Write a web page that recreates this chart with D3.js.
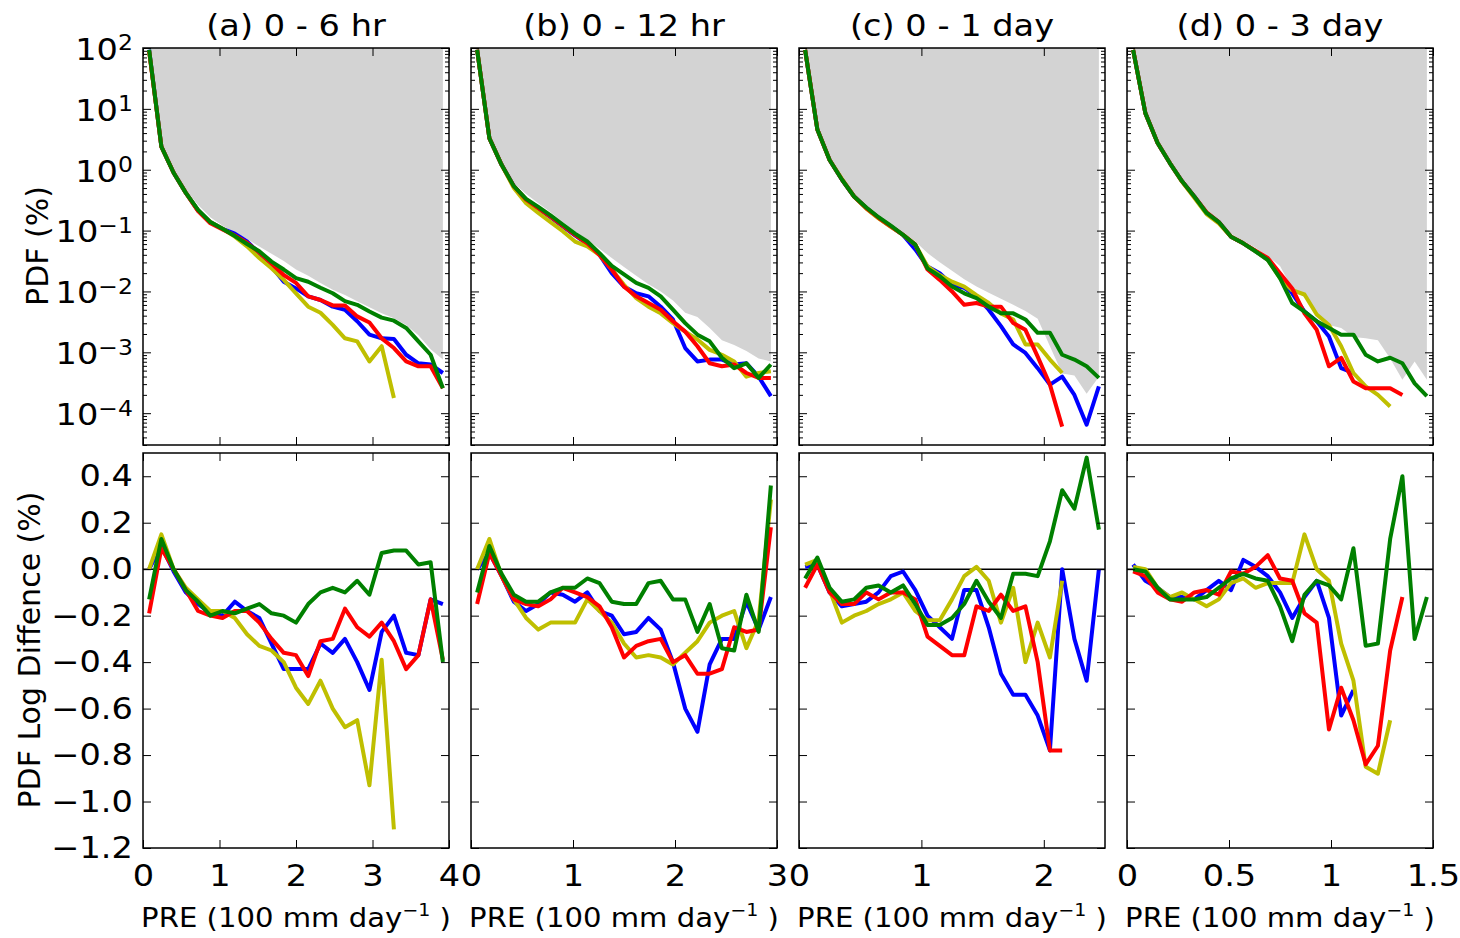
<!DOCTYPE html>
<html>
<head>
<meta charset="utf-8">
<script src="https://cdn.jsdelivr.net/npm/d3@7"></script>
<style>
  body { margin: 0; background: #fff; }
  text { font-family: "DejaVu Sans", sans-serif; fill: #000; }
</style>
</head>
<body>
<svg id="fig" width="1460" height="938"></svg>
<script>
// panels and axes
var panelTitles = ["(a) 0 - 6 hr", "(b) 0 - 12 hr", "(c) 0 - 1 day", "(d) 0 - 3 day"];
var xMax = [4, 3, 2.5, 1.5];
var xTickValues = [[0, 1, 2, 3, 4], [0, 1, 2, 3], [0, 1, 2], [0, 0.5, 1, 1.5]];
var nBins = 25;
var pdfDomain = [3e-5, 100];
var pdfTickExp = [2, 1, 0, -1, -2, -3, -4];
var diffDomain = [-1.2, 0.5];
var diffTicks = [0.4, 0.2, 0, -0.2, -0.4, -0.6, -0.8, -1.0, -1.2];

// log10 of PDF (%), one row per panel, 25 bins
var logPdfObs = [
  [1.99, 0.40, -0.03, -0.33, -0.58, -0.78, -0.92, -1.03, -1.14, -1.26, -1.38, -1.50, -1.64, -1.74, -1.86, -1.97, -2.06, -2.16, -2.26, -2.36, -2.44, -2.55, -2.72, -2.95, -3.12],
  [1.99, 0.55, 0.12, -0.22, -0.40, -0.55, -0.70, -0.86, -1.01, -1.15, -1.30, -1.45, -1.60, -1.74, -1.88, -2.00, -2.15, -2.35, -2.42, -2.60, -2.80, -2.88, -2.98, -3.10, -3.15],
  [1.99, 0.70, 0.20, -0.12, -0.40, -0.60, -0.77, -0.91, -1.03, -1.18, -1.37, -1.52, -1.66, -1.80, -1.92, -2.02, -2.12, -2.22, -2.32, -2.45, -2.90, -3.35, -3.38, -3.68, -3.40],
  [1.99, 0.95, 0.46, 0.12, -0.17, -0.42, -0.67, -0.85, -1.05, -1.17, -1.28, -1.42, -1.58, -1.95, -2.10, -2.35, -2.55, -2.60, -2.75, -2.77, -2.80, -3.10, -3.45, -3.15, -3.45]
];
var logPdfBlue = [
  [1.97, 0.38, -0.05, -0.38, -0.67, -0.86, -0.97, -1.05, -1.18, -1.37, -1.59, -1.84, -1.95, -2.08, -2.14, -2.25, -2.30, -2.49, -2.71, -2.77, -2.78, -3.04, -3.18, -3.20, -3.34],
  [1.97, 0.52, 0.08, -0.27, -0.50, -0.64, -0.78, -0.93, -1.08, -1.22, -1.40, -1.70, -1.92, -2.03, -2.08, -2.25, -2.46, -2.93, -3.15, -3.12, -3.12, -3.20, -3.18, -3.40, -3.72],
  [1.97, 0.66, 0.16, -0.16, -0.44, -0.63, -0.79, -0.93, -1.07, -1.31, -1.59, -1.70, -1.89, -1.94, -2.08, -2.30, -2.57, -2.87, -3.01, -3.26, -3.53, -3.40, -3.70, -4.19, -3.56],
  [1.97, 0.93, 0.44, 0.11, -0.19, -0.44, -0.71, -0.86, -1.10, -1.21, -1.34, -1.48, -1.75, -2.03, -2.33, -2.49, -2.74, -3.26, -3.34, null, null, null, null, null, null]
];
var logPdfRed = [
  [1.95, 0.38, -0.05, -0.38, -0.68, -0.88, -0.98, -1.08, -1.20, -1.36, -1.54, -1.73, -1.86, -2.08, -2.14, -2.23, -2.23, -2.41, -2.51, -2.77, -2.93, -3.15, -3.23, -3.23, -3.59],
  [1.97, 0.52, 0.08, -0.27, -0.49, -0.63, -0.77, -0.92, -1.07, -1.21, -1.40, -1.64, -1.92, -2.08, -2.19, -2.30, -2.49, -2.66, -2.90, -3.18, -3.23, -3.20, -3.34, -3.42, -3.42],
  [1.97, 0.66, 0.16, -0.16, -0.44, -0.63, -0.79, -0.93, -1.07, -1.23, -1.64, -1.81, -2.00, -2.22, -2.19, -2.25, -2.25, -2.52, -2.63, -3.07, -3.53, -4.22, null, null, null],
  [1.97, 0.93, 0.44, 0.11, -0.19, -0.44, -0.70, -0.86, -1.10, -1.21, -1.33, -1.45, -1.70, -1.95, -2.36, -2.63, -3.23, -3.09, -3.48, -3.59, -3.59, -3.59, -3.70, null, null]
];
var logPdfYellow = [
  [1.95, 0.38, -0.05, -0.38, -0.67, -0.86, -0.97, -1.10, -1.26, -1.45, -1.62, -1.81, -2.03, -2.25, -2.35, -2.55, -2.77, -2.82, -3.15, -2.90, -3.75, null, null, null, null],
  [1.97, 0.52, 0.08, -0.30, -0.55, -0.71, -0.86, -1.01, -1.18, -1.26, -1.40, -1.64, -1.89, -2.11, -2.25, -2.36, -2.52, -2.66, -2.79, -2.96, -3.04, -3.15, -3.40, -3.34, -3.31],
  [1.97, 0.66, 0.16, -0.15, -0.44, -0.64, -0.80, -0.94, -1.07, -1.23, -1.59, -1.73, -1.84, -1.92, -2.06, -2.19, -2.36, -2.46, -2.87, -2.87, -3.12, -3.34, null, null, null],
  [1.97, 0.93, 0.44, 0.11, -0.20, -0.46, -0.73, -0.88, -1.10, -1.21, -1.34, -1.48, -1.78, -1.98, -2.05, -2.38, -2.55, -2.90, -3.34, -3.56, -3.70, -3.89, null, null, null]
];
var logPdfGreen = [
  [1.97, 0.38, -0.05, -0.38, -0.66, -0.86, -0.97, -1.09, -1.22, -1.34, -1.51, -1.64, -1.78, -1.84, -1.94, -2.03, -2.16, -2.22, -2.33, -2.43, -2.48, -2.60, -2.82, -3.04, -3.59],
  [1.97, 0.52, 0.08, -0.27, -0.48, -0.61, -0.75, -0.90, -1.05, -1.18, -1.37, -1.58, -1.72, -1.86, -1.94, -2.08, -2.30, -2.52, -2.71, -2.82, -3.09, -3.26, -3.18, -3.42, -3.20],
  [1.97, 0.66, 0.16, -0.16, -0.44, -0.62, -0.78, -0.92, -1.07, -1.23, -1.62, -1.75, -1.92, -2.03, -2.11, -2.25, -2.36, -2.36, -2.46, -2.68, -2.68, -3.04, -3.12, -3.23, -3.42],
  [1.97, 0.93, 0.44, 0.11, -0.19, -0.44, -0.71, -0.86, -1.10, -1.21, -1.34, -1.48, -1.78, -2.19, -2.33, -2.49, -2.60, -2.71, -2.71, -3.04, -3.15, -3.09, -3.18, -3.51, -3.72]
];

// PDF log difference (%)
var diffBlue = [
  [0.00, 0.10, -0.01, -0.10, -0.15, -0.19, -0.20, -0.14, -0.18, -0.21, -0.32, -0.43, -0.43, -0.43, -0.32, -0.36, -0.30, -0.40, -0.52, -0.27, -0.20, -0.36, -0.37, -0.13, -0.15],
  [0.00, 0.07, -0.03, -0.14, -0.18, -0.15, -0.10, -0.11, -0.14, -0.10, -0.18, -0.20, -0.28, -0.27, -0.21, -0.26, -0.40, -0.60, -0.70, -0.41, -0.30, -0.30, -0.14, -0.26, -0.12],
  [0.01, 0.02, -0.10, -0.16, -0.15, -0.14, -0.10, -0.03, -0.01, -0.09, -0.20, -0.25, -0.30, -0.09, -0.09, -0.25, -0.45, -0.54, -0.54, -0.63, -0.78, 0.00, -0.30, -0.48, 0.00],
  [0.02, -0.05, -0.08, -0.12, -0.12, -0.13, -0.09, -0.05, -0.09, 0.04, 0.01, -0.03, -0.10, -0.21, -0.12, -0.05, -0.21, -0.63, -0.52, null, null, null, null, null, null]
];
var diffRed = [
  [-0.19, 0.09, 0.00, -0.09, -0.18, -0.20, -0.21, -0.18, -0.18, -0.23, -0.30, -0.36, -0.37, -0.46, -0.31, -0.30, -0.17, -0.25, -0.29, -0.23, -0.31, -0.43, -0.37, -0.13, -0.39],
  [-0.15, 0.07, -0.03, -0.13, -0.15, -0.16, -0.13, -0.08, -0.10, -0.12, -0.16, -0.25, -0.38, -0.33, -0.31, -0.30, -0.40, -0.37, -0.45, -0.45, -0.43, -0.25, -0.27, -0.26, 0.18],
  [-0.08, 0.02, -0.10, -0.15, -0.15, -0.10, -0.13, -0.10, -0.10, -0.13, -0.29, -0.33, -0.37, -0.37, -0.16, -0.18, -0.11, -0.18, -0.16, -0.40, -0.78, -0.78, null, null, null],
  [-0.01, -0.03, -0.10, -0.13, -0.14, -0.10, -0.09, -0.11, -0.01, -0.02, 0.01, 0.06, -0.04, -0.05, -0.19, -0.23, -0.69, -0.51, -0.65, -0.84, -0.76, -0.35, -0.12, null, null]
];
var diffYellow = [
  [0.00, 0.15, 0.00, -0.08, -0.13, -0.18, -0.18, -0.21, -0.28, -0.33, -0.35, -0.40, -0.51, -0.58, -0.48, -0.60, -0.68, -0.65, -0.93, -0.39, -1.12, null, null, null, null],
  [0.00, 0.13, -0.03, -0.13, -0.21, -0.26, -0.23, -0.23, -0.23, -0.13, -0.18, -0.23, -0.32, -0.38, -0.37, -0.38, -0.41, -0.36, -0.31, -0.23, -0.20, -0.18, -0.34, -0.22, 0.30],
  [0.02, 0.04, -0.09, -0.23, -0.20, -0.18, -0.15, -0.13, -0.10, -0.18, -0.22, -0.22, -0.13, -0.03, 0.01, -0.05, -0.23, -0.08, -0.40, -0.23, -0.38, -0.05, null, null, null],
  [0.01, 0.00, -0.08, -0.12, -0.10, -0.13, -0.16, -0.13, -0.06, -0.04, -0.08, -0.06, -0.06, -0.06, 0.15, 0.00, -0.05, -0.32, -0.48, -0.85, -0.88, -0.65, null, null, null]
];
var diffGreen = [
  [-0.13, 0.13, 0.00, -0.09, -0.14, -0.20, -0.18, -0.19, -0.17, -0.15, -0.19, -0.20, -0.23, -0.15, -0.10, -0.08, -0.10, -0.05, -0.11, 0.07, 0.08, 0.08, 0.02, 0.03, -0.40],
  [-0.10, 0.10, -0.02, -0.11, -0.14, -0.14, -0.10, -0.08, -0.08, -0.04, -0.06, -0.14, -0.15, -0.15, -0.06, -0.05, -0.13, -0.13, -0.27, -0.15, -0.34, -0.35, -0.11, -0.27, 0.36],
  [-0.04, 0.05, -0.08, -0.14, -0.13, -0.08, -0.07, -0.10, -0.07, -0.15, -0.24, -0.24, -0.21, -0.15, -0.05, -0.14, -0.21, -0.02, -0.02, -0.03, 0.12, 0.34, 0.26, 0.48, 0.17],
  [0.00, -0.01, -0.08, -0.13, -0.13, -0.13, -0.12, -0.08, -0.04, -0.02, -0.04, -0.05, -0.16, -0.31, -0.11, -0.05, -0.07, -0.13, 0.09, -0.33, -0.32, 0.13, 0.40, -0.30, -0.12]
];

var series = [
  {color: "#0000ff", pdf: logPdfBlue, diff: diffBlue},
  {color: "#bfbf00", pdf: logPdfYellow, diff: diffYellow},
  {color: "#ff0000", pdf: logPdfRed, diff: diffRed},
  {color: "#008000", pdf: logPdfGreen, diff: diffGreen}
];

var svg = d3.select("#fig"),
    LEFT = 143,
    PW = 306,
    STEP = 328,
    TOP1 = 48, BOT1 = 445,
    TOP2 = 453, BOT2 = 848,
    TICK = 8, MINOR = 4,
    FONT = 30,
    SX = 1.12;   // the original figure text is a little wider than tall

var yPdf = d3.scaleLog().domain(pdfDomain).range([BOT1, TOP1]);
var yDiff = d3.scaleLinear().domain(diffDomain).range([BOT2, TOP2]);

var minorPdf = [];
d3.range(-5, 2).forEach(function(e) {
  for (var k = 2; k <= 9; k++) {
    var v = k * Math.pow(10, e);
    if (v >= pdfDomain[0] && v <= pdfDomain[1]) minorPdf.push(v);
  }
});

function supText(sel, exp) {
  sel.text(null);
  sel.append("tspan").text("10");
  sel.append("tspan").attr("dy", "-0.45em").attr("font-size", "0.7em")
    .text(exp < 0 ? "\u2212" + (-exp) : String(exp));
}

function styleAxis(g) {
  g.select(".domain").remove();
  g.selectAll(".tick line").attr("stroke", "#000").attr("stroke-width", 1);
  g.selectAll(".tick text").attr("transform", "scale(" + SX + ",1)");
  g.attr("font-family", null).attr("font-size", FONT);
}

panelTitles.forEach(function(title, p) {
  var x0 = LEFT + p * STEP;
  var x = d3.scaleLinear().domain([0, xMax[p]]).range([x0, x0 + PW]);
  var centers = d3.range(nBins).map(function(i) { return (i + 0.5) * xMax[p] / nBins; });

  var clipTop = "clipTop" + p, clipBot = "clipBot" + p;
  svg.append("clipPath").attr("id", clipTop).append("rect")
    .attr("x", x0).attr("y", TOP1).attr("width", PW).attr("height", BOT1 - TOP1);
  svg.append("clipPath").attr("id", clipBot).append("rect")
    .attr("x", x0).attr("y", TOP2).attr("width", PW).attr("height", BOT2 - TOP2);

  // ---- top row: PDF on log axis
  var top = svg.append("g").attr("clip-path", "url(#" + clipTop + ")");
  var area = d3.area()
    .x(function(d, i) { return x(centers[i]); })
    .y0(yPdf(pdfDomain[1]))
    .y1(function(d) { return yPdf(Math.pow(10, d)); });
  top.append("path").attr("d", area(logPdfObs[p])).attr("fill", "#d3d3d3");

  var pdfLine = d3.line()
    .defined(function(d) { return d != null; })
    .x(function(d, i) { return x(centers[i]); })
    .y(function(d) { return yPdf(Math.pow(10, d)); });
  series.forEach(function(s) {
    top.append("path").attr("d", pdfLine(s.pdf[p]))
      .attr("fill", "none").attr("stroke", s.color).attr("stroke-width", 4)
      .attr("stroke-linejoin", "round");
  });

  // ---- bottom row: log difference
  var bot = svg.append("g").attr("clip-path", "url(#" + clipBot + ")");
  bot.append("line")
    .attr("x1", x0).attr("x2", x0 + PW)
    .attr("y1", yDiff(0)).attr("y2", yDiff(0))
    .attr("stroke", "#000").attr("stroke-width", 1.5);
  var diffLine = d3.line()
    .defined(function(d) { return d != null; })
    .x(function(d, i) { return x(centers[i]); })
    .y(function(d) { return yDiff(d); });
  series.forEach(function(s) {
    bot.append("path").attr("d", diffLine(s.diff[p]))
      .attr("fill", "none").attr("stroke", s.color).attr("stroke-width", 4)
      .attr("stroke-linejoin", "round");
  });

  // ---- axes (ticks inside on all four sides)
  [[TOP1, BOT1], [TOP2, BOT2]].forEach(function(r, row) {
    svg.append("g").attr("transform", "translate(0," + r[1] + ")")
      .call(d3.axisBottom(x).tickValues(xTickValues[p]).tickSize(-TICK).tickPadding(17)
        .tickFormat(row === 1 ? function(d) { return String(d); } : ""))
      .call(styleAxis);
    svg.append("g").attr("transform", "translate(0," + r[0] + ")")
      .call(d3.axisTop(x).tickValues(xTickValues[p]).tickSize(-TICK).tickFormat(""))
      .call(styleAxis);
  });

  var yl = svg.append("g").attr("transform", "translate(" + x0 + ",0)")
    .call(d3.axisLeft(yPdf).tickValues(pdfTickExp.map(function(e) { return Math.pow(10, e); }))
      .tickSize(-TICK).tickPadding(9).tickFormat(p === 0 ? function(d) { return d; } : ""))
    .call(styleAxis);
  if (p === 0) {
    yl.selectAll(".tick text").each(function(d) {
      d3.select(this).attr("dy", "0.38em").call(supText, Math.round(Math.log10(d)));
    });
  }
  svg.append("g").attr("transform", "translate(" + (x0 + PW) + ",0)")
    .call(d3.axisRight(yPdf).tickValues(pdfTickExp.map(function(e) { return Math.pow(10, e); }))
      .tickSize(-TICK).tickFormat(""))
    .call(styleAxis);
  [x0, x0 + PW].forEach(function(xx, side) {
    svg.append("g").attr("transform", "translate(" + xx + ",0)")
      .call((side === 0 ? d3.axisLeft(yPdf) : d3.axisRight(yPdf))
        .tickValues(minorPdf).tickSize(-MINOR).tickFormat(""))
      .call(styleAxis);
  });

  svg.append("g").attr("transform", "translate(" + x0 + ",0)")
    .call(d3.axisLeft(yDiff).tickValues(diffTicks).tickSize(-TICK).tickPadding(9)
      .tickFormat(p === 0 ? d3.format(".1f") : ""))
    .call(styleAxis);
  svg.append("g").attr("transform", "translate(" + (x0 + PW) + ",0)")
    .call(d3.axisRight(yDiff).tickValues(diffTicks).tickSize(-TICK).tickFormat(""))
    .call(styleAxis);

  // frames
  [[TOP1, BOT1], [TOP2, BOT2]].forEach(function(r) {
    svg.append("rect").attr("x", x0).attr("y", r[0]).attr("width", PW).attr("height", r[1] - r[0])
      .attr("fill", "none").attr("stroke", "#000").attr("stroke-width", 1.5);
  });

  // title and x label
  svg.append("text")
    .attr("transform", "translate(" + (x0 + PW / 2) + ",36) scale(" + SX + ",1)")
    .attr("text-anchor", "middle").attr("font-size", FONT).text(title);
  var xl = svg.append("text")
    .attr("transform", "translate(" + (x0 + PW / 2) + ",927) scale(" + SX + ",1)")
    .attr("text-anchor", "middle").attr("font-size", 26);
  xl.append("tspan").text("PRE (100 mm day");
  xl.append("tspan").attr("dy", -11).attr("font-size", 17).text("\u22121");
  xl.append("tspan").attr("dy", 11).text(" )");
});

svg.append("text")
  .attr("transform", "translate(48,246) rotate(-90)")
  .attr("text-anchor", "middle").attr("font-size", FONT).text("PDF (%)");
svg.append("text")
  .attr("transform", "translate(40,650) rotate(-90)")
  .attr("text-anchor", "middle").attr("font-size", FONT).text("PDF Log Diffence (%)");
</script>
</body>
</html>
